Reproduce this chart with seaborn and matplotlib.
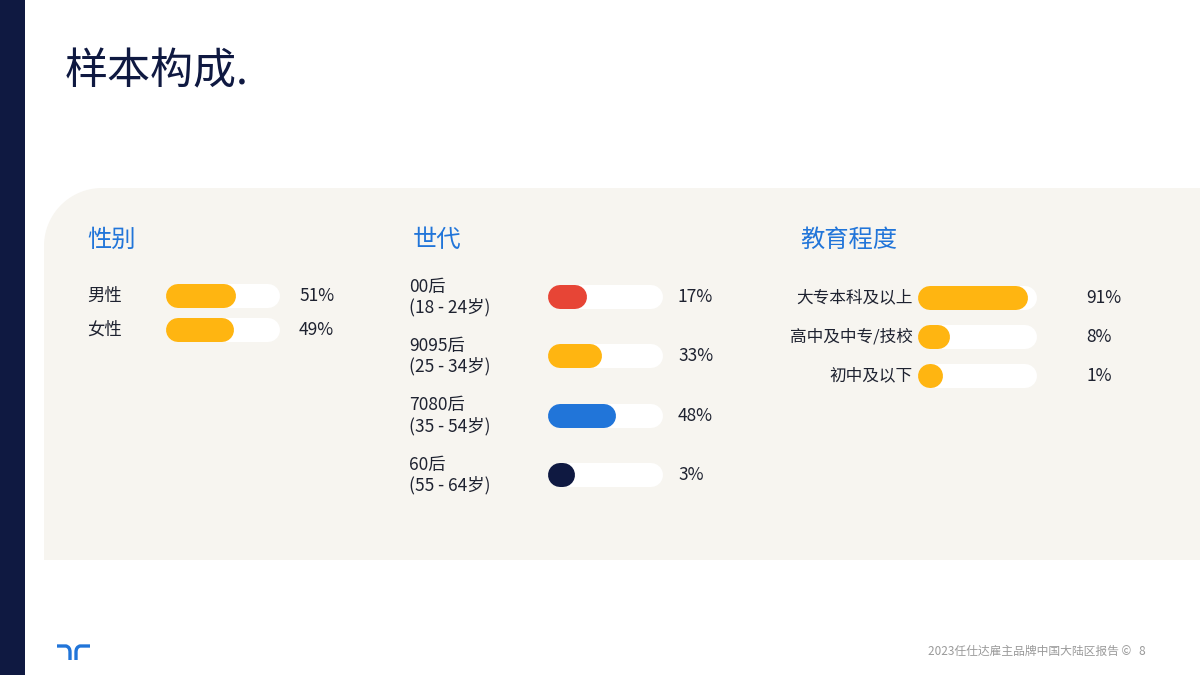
import numpy as np
import pandas as pd
import matplotlib.pyplot as plt
import seaborn as sns
from matplotlib import transforms
from matplotlib.patches import Polygon, Rectangle
from matplotlib.path import Path
from matplotlib.patches import PathPatch

sns.set_theme(style='white')
plt.rcParams['font.family'] = ['Noto Sans CJK SC', 'DejaVu Sans']

# 数据
gender_labels = ['男性', '女性']
gender_values = [51, 49]

gen_labels = ['00后\n(18 - 24岁)', '9095后\n(25 - 34岁)', '7080后\n(35 - 54岁)', '60后\n(55 - 64岁)']
gen_values = [17, 33, 48, 3]

edu_labels = ['大专本科及以上', '高中及中专/技校', '初中及以下']
edu_values = [91, 8, 1]

NAVY = '#0f1941'
YELLOW = '#ffb511'
RED = '#e74536'
BLUE = '#2175d9'
BEIGE = '#f7f5f0'
TXT = '#1e2230'

W, H = 1200, 675
fig = plt.figure(figsize=(12, 6.75), dpi=100)

# 背景 (像素坐标)
bg = fig.add_axes([0, 0, 1, 1])
bg.set_xlim(0, W)
bg.set_ylim(H, 0)
bg.axis('off')

bg.add_patch(Rectangle((0, 0), 25, H, color=NAVY, lw=0))

# 左上圆角的面板
R = 58
t = np.linspace(np.pi, 1.5 * np.pi, 30)
arc = np.column_stack([44 + R + R * np.cos(t), 188 + R + R * np.sin(t)])
pts = np.vstack([[[44, 560]], arc, [[W, 188], [W, 560]]])
bg.add_patch(Polygon(pts, closed=True, color=BEIGE, lw=0))

bg.text(65, 72, '样本构成.', fontsize=31, color=NAVY, va='center', ha='left')

# 页脚
bg.text(1146, 651, '2023任仕达雇主品牌中国大陆区报告 ©   8', fontsize=8.5,
        color='#9a9a9a', va='center', ha='right')

# logo
logo = Path([(57, 646), (66, 646), (70, 647), (70, 652), (70, 660),
             (76, 660), (76, 652), (76, 647), (80, 646), (90, 646)],
            [Path.MOVETO, Path.LINETO, Path.CURVE3, Path.CURVE3, Path.LINETO,
             Path.MOVETO, Path.LINETO, Path.CURVE3, Path.CURVE3, Path.LINETO])
bg.add_patch(PathPatch(logo, fill=False, edgecolor=BLUE, lw=2.4, capstyle='butt'))


def draw_group(labels, values, colors, x0, x1, rows, title, title_x,
               label_x, label_ha, pct_x, fs=12.5):
    r = 12
    n = len(labels)
    ax = fig.add_axes([(x0 + r) / W, 1 - rows[-1] / H,
                       (x1 - x0 - 2 * r) / W, (rows[-1] - rows[0]) / H])
    df = pd.DataFrame({'label': labels, 'value': values, 'track': [100] * n})
    sns.barplot(data=df, x='track', y='label', color='white', saturation=1, ax=ax)
    sns.barplot(data=df, x='value', y='label', hue='label', palette=colors,
                saturation=1, legend=False, ax=ax)
    lw = 2 * r * 72 / 100
    for k, p in enumerate(list(ax.patches)):
        yc = p.get_y() + p.get_height() / 2
        xs = p.get_x()
        xe = xs + p.get_width()
        c = p.get_facecolor()
        p.remove()
        ax.plot([xs, xe], [yc, yc], color=c, lw=lw, solid_capstyle='round',
                clip_on=False, zorder=2 if k < n else 3)
    ax.set_xlim(0, 100)
    ax.set_ylim(n - 1, 0)
    ax.axis('off')
    ax.patch.set_alpha(0)

    trans = transforms.blended_transform_factory(fig.transFigure, ax.transData)
    for i, (lab, v) in enumerate(zip(labels, values)):
        ax.text(label_x / W, i, lab, transform=trans, ha=label_ha, va='center',
                fontsize=fs, color=TXT, linespacing=1.15)
        ax.text(pct_x / W, i, f'{v}%', transform=trans, ha='left', va='center',
                fontsize=12.5, color=TXT)
    bg.text(title_x, 240, title, fontsize=17.5, color=BLUE, va='center', ha='left')


draw_group(gender_labels, gender_values, [YELLOW, YELLOW], 166, 280, [296, 330],
           '性别', 87, 87, 'left', 299)
draw_group(gen_labels, gen_values, [RED, YELLOW, BLUE, NAVY], 548, 663,
           [297, 357, 416, 475], '世代', 413, 409, 'left', 678)
draw_group(edu_labels, edu_values, [YELLOW, YELLOW, YELLOW], 918, 1037,
           [298, 337, 376], '教育程度', 800, 913, 'right', 1086, fs=12)

fig.savefig('out.png', dpi=100)
